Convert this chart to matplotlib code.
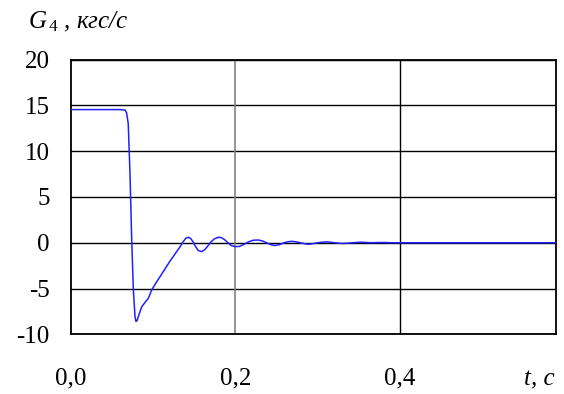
import matplotlib
matplotlib.use("Agg")
import matplotlib.pyplot as plt

plt.rcParams['font.family'] = ['Liberation Serif', 'DejaVu Serif']
plt.rcParams['mathtext.fontset'] = 'custom'
plt.rcParams['mathtext.it'] = 'Liberation Serif:italic'
plt.rcParams['mathtext.rm'] = 'Liberation Serif'
plt.rcParams['axes.unicode_minus'] = False

# time, s
t = [0.0, 0.030, 0.060, 0.066, 0.068, 0.070, 0.0721, 0.0742, 0.0762, 0.0782,
     0.0794, 0.0808, 0.0822, 0.0863, 0.0905, 0.0944, 0.0985, 0.1035, 0.1086,
     0.120, 0.133, 0.137, 0.140, 0.143, 0.146, 0.149, 0.152, 0.155, 0.159,
     0.163, 0.167, 0.171, 0.175, 0.1795, 0.1835, 0.1875, 0.191, 0.195, 0.200,
     0.205, 0.210, 0.216, 0.222, 0.228, 0.233, 0.238, 0.243, 0.248, 0.253,
     0.258, 0.263, 0.2685, 0.274, 0.279, 0.284, 0.2887, 0.294, 0.300, 0.306,
     0.311, 0.316, 0.321, 0.326, 0.331, 0.337, 0.342, 0.348, 0.353, 0.359,
     0.365, 0.372, 0.380, 0.390, 0.400, 0.450, 0.500, 0.550, 0.590]
# G4, kgf/s
g = [14.55, 14.55, 14.55, 14.5, 14.2, 13.0, 7.6, 0.3, -5.15, -8.07,
     -8.6, -8.5, -8.07, -7.0, -6.5, -6.06, -5.15, -4.4, -3.7,
     -2.1, -0.42, 0.15, 0.5, 0.6, 0.45, 0.05, -0.45, -0.85, -0.97,
     -0.75, -0.3, 0.15, 0.45, 0.6, 0.55, 0.3, 0.0, -0.3, -0.42,
     -0.4, -0.2, 0.1, 0.28, 0.3, 0.2, 0.0, -0.2, -0.3, -0.22,
     -0.05, 0.1, 0.16, 0.1, 0.0, -0.1, -0.16, -0.1, 0.0, 0.07,
     0.1, 0.05, 0.0, -0.05, -0.08, -0.04, 0.0, 0.04, 0.06, 0.03,
     0.0, 0.02, 0.03, 0.0, 0.0, 0.0, 0.0, 0.0, 0.0]

x_ticks = [0.0, 0.2, 0.4]
x_labels = ['0,0', '0,2', '0,4']
y_ticks = [-10, -5, 0, 5, 10, 15, 20]

fig = plt.figure(figsize=(5.64, 3.94), dpi=100)
ax = fig.add_axes([70.6 / 564, 1 - 334.3 / 394, (555.7 - 70.6) / 564, (334.3 - 59.7) / 394])
ax.set_xlim(0, 0.589)
ax.set_ylim(-10, 20)

for yv in y_ticks:
    ax.axhline(yv, color='black', lw=1.0, zorder=1)
ax.axvline(0.2, color='#808080', lw=1.2, zorder=1)
ax.axvline(0.4, color='black', lw=1.0, zorder=1)

ax.plot(t, g, color='#2020ff', lw=1.1, zorder=3)

ax.set_xticks(x_ticks)
ax.set_xticklabels(x_labels)
ax.set_yticks(y_ticks)
ax.tick_params(length=0, labelsize=18)
ax.tick_params(axis='x', pad=24)
ax.tick_params(axis='y', pad=15)
for s in ax.spines.values():
    s.set_linewidth(1.3)
    s.set_color('black')

fig.text(28 / 564, 1 - 28 / 394, r'$G_{\,\mathit{4}}$ , кгс/с', fontsize=18, style='italic')
fig.text(524 / 564, 1 - 385 / 394, 't, c', fontsize=18, style='italic')

fig.savefig('out.png', dpi=100)
